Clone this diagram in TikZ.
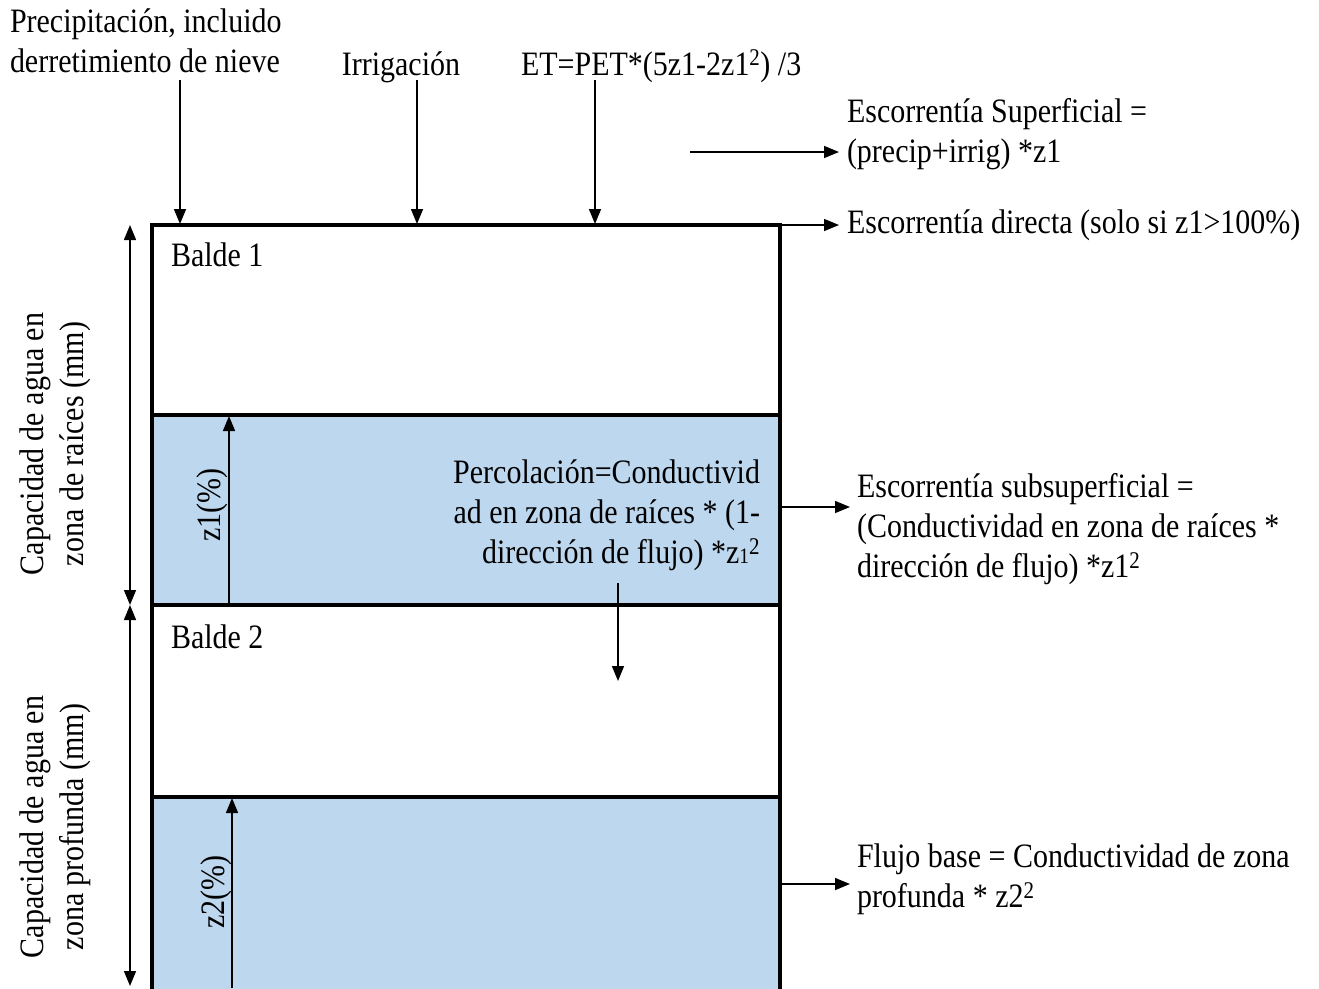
\documentclass[tikz,border=0pt]{standalone}
\usepackage{fontspec}
\setmainfont{Liberation Serif}[FakeStretch=0.877]
\usetikzlibrary{arrows.meta}
\definecolor{bluefill}{RGB}{189,215,238}
\begin{document}
\begin{tikzpicture}[x=1pt,y=-1pt,
  every node/.style={font=\fontsize{34.2}{40}\selectfont, inner sep=0pt, outer sep=0pt},
  arr/.style={line width=1.5pt, -{Triangle[length=15pt,width=12pt]}},
  darr/.style={line width=1.5pt, {Triangle[length=15pt,width=12pt]}-{Triangle[length=15pt,width=12pt]}},
  layer/.style={draw, line width=3.2pt, minimum width=628pt, inner sep=0pt, anchor=north west},
  lbl/.style={align=left},
]
\useasboundingbox (0,0) rectangle (1319,988);

% layers
\node[layer, minimum height=190pt] (b1) at (152,225) {};
\node[layer, fill=bluefill, minimum height=190pt] (b1z) at (152,415) {};
\node[layer, minimum height=192pt] (b2) at (152,605) {};
\node[layer, fill=bluefill, minimum height=196pt] (b2z) at (152,797) {};

\node[anchor=base west] (t1) at (171,266) {Balde 1};
\node[anchor=base west] (t2) at (171,648) {Balde 2};

% top labels
\node[lbl, anchor=north west] (prec) at (10,9) {Precipitación, incluido\\derretimiento de nieve};
\node[anchor=base] (irr) at (401,75) {Irrigación};
\node[anchor=base west] (et) at (521,75) {ET=PET*(5z1-2z1\textsuperscript{2}) /3};

\coordinate (pin) at (180,224);
\coordinate (iin) at (417,224);
\coordinate (ein) at (595,224);
\draw[arr] (pin |- 0,80) -- (pin);
\draw[arr] (iin |- 0,80) -- (iin);
\draw[arr] (ein |- 0,80) -- (ein);

% right labels
\node[lbl, anchor=north west] (esup) at (847,98) {Escorrentía Superficial =\\(precip+irrig) *z1};
\coordinate (esupstart) at (690,152);
\draw[arr] (esupstart) -- (839,152);

\node[anchor=west] (edir) at (847,225) {Escorrentía directa (solo si z1>100\%)};
\draw[arr, shorten >=8pt] (b1.north east) -- (edir.west);

\node[lbl, anchor=north west] (esub) at (857,473) {Escorrentía subsuperficial =\\(Conductividad en zona de raíces *\\dirección de flujo) *z1\textsuperscript{2}};
\coordinate (esubout) at (780,507);
\draw[arr] (esubout) -- (850,507);

\node[lbl, anchor=north west] (fb) at (857,844) {Flujo base = Conductividad de zona\\profunda * z2\textsuperscript{2}};
\coordinate (fbout) at (780,884);
\draw[arr] (fbout) -- (850,884);

% percolation
\node[align=right, anchor=north east] (perc) at (760,460) {Percolación=Conductivid\\ad en zona de raíces * (1-\\dirección de flujo) *z{\fontsize{22}{22}\selectfont 1}\textsuperscript{2}};
\coordinate (pa) at (618,583);
\coordinate (pb) at (618,681);
\draw[arr] (pa) -- (pb);

% z arrows
\coordinate (z1a) at (229,605);
\coordinate (z1b) at (229,416);
\draw[arr] (z1a) -- (z1b);
\node[rotate=90] (z1t) at (212,505) {z1(\%)};
\coordinate (z2a) at (232,988);
\coordinate (z2b) at (232,798);
\draw[arr] (z2a) -- (z2b);
\node[rotate=90] (z2t) at (216,892) {z2(\%)};

% left dimension arrows
\coordinate (d1) at (130,225);
\coordinate (d2) at (130,605);
\coordinate (d3) at (130,986);
\draw[darr] (d1) -- (d2);
\draw[darr] (d2) -- (d3);
\node[rotate=90, align=center] (cap1) at (55,444) {Capacidad de agua en\\zona de raíces (mm)};
\node[rotate=90, align=center] (cap2) at (55,827) {Capacidad de agua en\\zona profunda (mm)};
\end{tikzpicture}
\end{document}
